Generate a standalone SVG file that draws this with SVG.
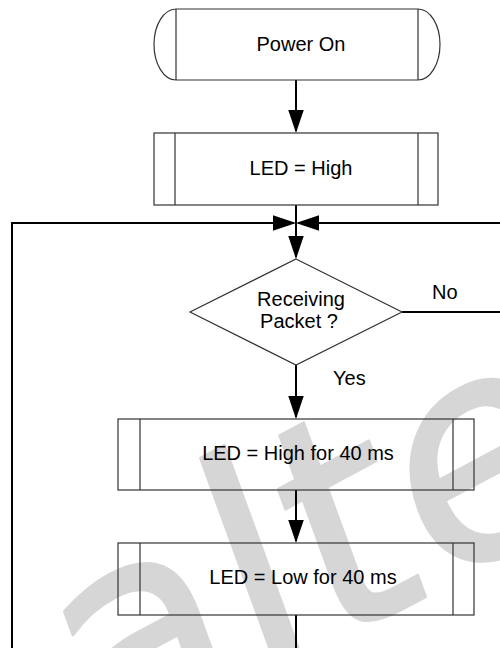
<svg xmlns="http://www.w3.org/2000/svg" width="500" height="648" viewBox="0 0 500 648">
  <style>
    .wm { font-family: "DejaVu Sans", sans-serif; font-size: 300px; fill: #d6d6d6; stroke: #d6d6d6; stroke-width: 3px; stroke-linejoin: round; }
    .box { fill: none; stroke: #333; stroke-width: 1.2; }
    .conn { fill: none; stroke: #000; stroke-width: 2; }
    .lbl { font-family: "Liberation Sans", Arial, sans-serif; font-size: 20px; fill: #000; }
    .mid { text-anchor: middle; }
  </style>
  <defs>
    <marker id="ah" viewBox="0 0 23 15.5" refX="21" refY="7.75" markerWidth="23" markerHeight="15.5" markerUnits="userSpaceOnUse" orient="auto">
      <path d="M0,0 L23,7.75 L0,15.5 Z" fill="#000"/>
    </marker>
  </defs>
  <rect width="500" height="648" fill="#fff"/>
  <text class="wm" transform="translate(92,774) rotate(-28) skewX(-8)">alte</text>

  <g id="connectors">
    <path class="conn" d="M296,80 V131" marker-end="url(#ah)"/>
    <path class="conn" d="M296,205 V257" marker-end="url(#ah)"/>
    <path class="conn" d="M12,648 V223 H294" marker-end="url(#ah)"/>
    <path class="conn" d="M500,223 H298" marker-end="url(#ah)"/>
    <path class="conn" d="M402,312 H500"/>
    <path class="conn" d="M296,365 V417" marker-end="url(#ah)"/>
    <path class="conn" d="M296,490 V541" marker-end="url(#ah)"/>
    <path class="conn" d="M296,615 V648"/>
    <text class="lbl" x="432" y="299">No</text>
    <text class="lbl" x="333" y="385">Yes</text>
  </g>

  <g id="power-on">
    <path class="box" d="M176,9 H418 A22,35.5 0 0 1 418,80 H176 A22,35.5 0 0 1 176,9 Z"/>
    <path class="box" d="M176,9 V80 M418,9 V80"/>
    <text class="lbl mid" x="301" y="51">Power On</text>
  </g>

  <g id="led-high">
    <rect class="box" x="154" y="133" width="284" height="72"/>
    <path class="box" d="M175,133 V205 M418,133 V205"/>
    <text class="lbl mid" x="301" y="175">LED = High</text>
  </g>

  <g id="receiving">
    <path class="box" d="M296,259 L402,312 L296,365 L190,312 Z"/>
    <text class="lbl mid" x="301" y="306">Receiving</text>
    <text class="lbl mid" x="299" y="328">Packet ?</text>
  </g>

  <g id="led-high-40">
    <rect class="box" x="118" y="419" width="356" height="71"/>
    <path class="box" d="M140,419 V490 M453,419 V490"/>
    <text class="lbl mid" x="298" y="460">LED = High for 40 ms</text>
  </g>

  <g id="led-low-40">
    <rect class="box" x="118" y="543" width="356" height="72"/>
    <path class="box" d="M140,543 V615 M453,543 V615"/>
    <text class="lbl mid" x="303" y="584">LED = Low for 40 ms</text>
  </g>
</svg>
